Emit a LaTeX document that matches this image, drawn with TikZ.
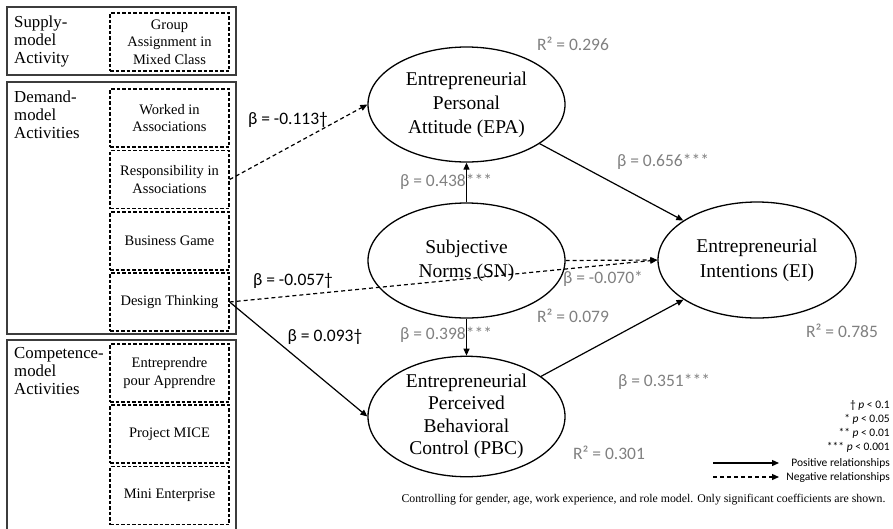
\documentclass[tikz,border=0pt]{standalone}
\usepackage{fontspec}
\setmainfont{Liberation Serif}
\newfontfamily\calibri{Carlito}
\usetikzlibrary{arrows.meta,shapes.geometric}
\definecolor{coefgray}{RGB}{128,128,128}
\definecolor{framegray}{RGB}{60,60,60}

\begin{document}
\begin{tikzpicture}[x=1pt,y=-1pt,
  groupframe/.style={draw=framegray, line width=2pt},
  actbox/.style={draw, dash pattern=on 3.5pt off 2pt, line width=1.3pt,
    minimum width=119pt, minimum height=58pt, inner sep=0pt, align=center,
    font=\fontsize{14.5}{17.5}\selectfont},
  grouplabel/.style={anchor=north west, inner sep=0pt, align=left,
    font=\fontsize{16.8}{18}\selectfont},
  construct/.style={draw, ellipse, line width=1.3pt, minimum width=197pt,
    minimum height=115pt, inner sep=0pt, align=center,
    font=\fontsize{19.5}{24}\selectfont},
  coef/.style={inner sep=0pt, font=\calibri\fontsize{17.5}{20}\selectfont},
  coefgrey/.style={coef, text=coefgray},
  legendtext/.style={anchor=east, inner sep=0pt, font=\calibri\fontsize{11.5}{14}\selectfont},
  posarrow/.style={line width=1.2pt, -{Triangle[length=7pt,width=6pt]}},
  negarrow/.style={posarrow, dash pattern=on 4pt off 3pt},
]
\useasboundingbox (0,0) rectangle (893,528);
\clip (0,0) rectangle (893,528);

% activity groups
\draw[groupframe] (7,7) rectangle (236,75);
\draw[groupframe] (7,82) rectangle (236,334);
\draw[groupframe] (7,340) rectangle (236,540);

\node[grouplabel] (supply) at (14,16) {Supply-\\model\\Activity};
\node[grouplabel] (demand) at (14,91) {Demand-\\model\\Activities};
\node[grouplabel] (compet) at (14,347) {Competence-\\model\\Activities};

% individual activities
\node[actbox] (grp)  at (169.5,42)  {Group\\Assignment in\\Mixed Class};
\node[actbox] (work) at (169.5,118) {Worked in\\Associations};
\node[actbox] (resp) at (169.5,179.5) {Responsibility in\\Associations};
\node[actbox] (game) at (169.5,241) {Business Game};
\node[actbox] (dt)   at (169.5,302) {Design Thinking};
\node[actbox] (epa2) at (169.5,373) {Entreprendre\\pour Apprendre};
\node[actbox] (mice) at (169.5,434) {Project MICE};
\node[actbox] (mini) at (169.5,495.5) {Mini Enterprise};

% constructs
\node[construct] (epa) at (466.5,104.5) {Entrepreneurial\\Personal\\Attitude (EPA)};
\node[construct] (sn)  at (466.5,260.5) {Subjective\\Norms (SN)};
\node[construct, minimum height=117pt, font=\fontsize{19.5}{22.5}\selectfont]
  (pbc) at (466.5,416.5) {Entrepreneurial\\Perceived\\Behavioral\\Control (PBC)};
\node[construct, minimum width=198pt, minimum height=116pt,
  font=\fontsize{19.5}{25}\selectfont]
  (ei) at (757,260) {Entrepreneurial\\Intentions (EI)};

% paths
\draw[negarrow] (resp.east) -- (epa.west);
\draw[negarrow] (dt.east) -- (ei.west);
\draw[posarrow] (dt.east) -- (pbc.west);
\draw[posarrow] (sn) -- (epa);
\draw[posarrow] (sn) -- (pbc);
\draw[posarrow] (epa) -- (ei);
\draw[posarrow] (pbc) -- (ei);
\draw[negarrow] (sn.east) -- (ei.west);

% coefficients
\node[coefgrey] (r2epa) at (573,44)  {R² = 0.296};
\node[coef]     (b1)    at (288,120) {β = -0.113†};
\node[coefgrey] (b2)    at (446,182) {β = 0.438***};
\node[coefgrey] (b3)    at (663,162) {β = 0.656***};
\node[coef]     (b4)    at (293,281) {β = -0.057†};
\node[coefgrey] (b5)    at (603,279) {β = -0.070*};
\node[coefgrey] (r2sn)  at (573,316) {R² = 0.079};
\node[coef]     (b6)    at (325,337) {β = 0.093†};
\node[coefgrey] (b7)    at (446,335) {β = 0.398***};
\node[coefgrey] (b8)    at (664,382) {β = 0.351***};
\node[coefgrey] (r2pbc) at (609,453) {R² = 0.301};
\node[coefgrey] (r2ei)  at (842,331) {R² = 0.785};

% legend
\node[legendtext] (l1) at (890,405) {† \textit{p} < 0.1};
\node[legendtext] (l2) at (890,419) {* \textit{p} < 0.05};
\node[legendtext] (l3) at (890,433) {** \textit{p} < 0.01};
\node[legendtext] (l4) at (890,447) {*** \textit{p} < 0.001};
\node[legendtext] (l5) at (890,463) {Positive relationships};
\node[legendtext] (l6) at (890,477) {Negative relationships};
\coordinate (lp1) at (713,463);
\coordinate (lp2) at (779,463);
\coordinate (ln1) at (713,477);
\coordinate (ln2) at (779,477);
\draw[posarrow] (lp1) -- (lp2);
\draw[negarrow] (ln1) -- (ln2);

\node[inner sep=0pt, font=\fontsize{11.8}{14}\selectfont] (note) at (643.5,500)
  {Controlling for gender, age, work experience, and role model. Only significant coefficients are shown.};
\end{tikzpicture}
\end{document}
